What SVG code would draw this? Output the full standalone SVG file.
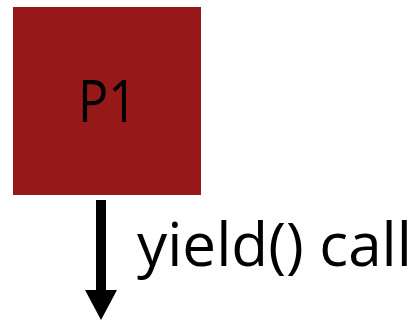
<svg xmlns="http://www.w3.org/2000/svg" width="417" height="321" viewBox="0 0 417 321">
  <style>
    .label { font-family: "Open Sans", "Liberation Sans", sans-serif; fill: #000; }
  </style>
  <defs>
    <marker id="head" markerUnits="userSpaceOnUse" markerWidth="30" markerHeight="32" refX="0" refY="16" orient="auto" viewBox="0 0 30 32">
      <path d="M0,0 L30,16 L0,32 Z" fill="#000"/>
    </marker>
  </defs>
  <rect width="417" height="321" fill="#fff"/>
  <g id="p1">
    <rect x="13" y="7" width="188" height="188" fill="#971819"/>
    <text class="label" x="78" y="122" font-size="59" textLength="59" lengthAdjust="spacingAndGlyphs">P1</text>
  </g>
  <g id="connectors">
    <line x1="101" y1="200" x2="101" y2="290" stroke="#000" stroke-width="10" marker-end="url(#head)"/>
    <text class="label" x="137" y="266" font-size="60" textLength="275" lengthAdjust="spacingAndGlyphs">yield() call</text>
  </g>
</svg>
